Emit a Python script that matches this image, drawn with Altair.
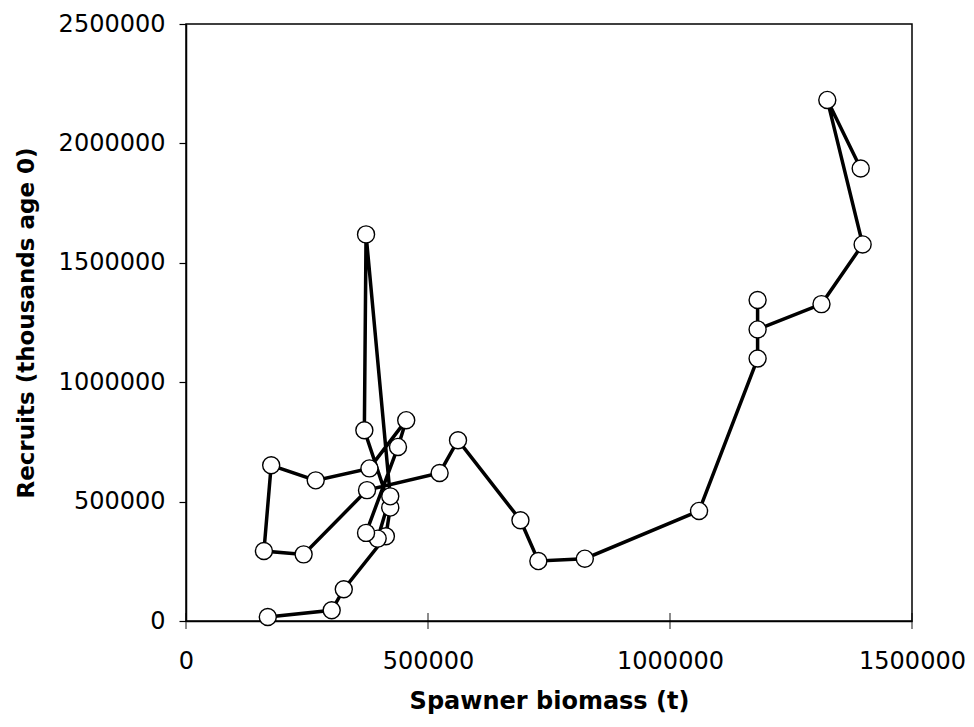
import altair as alt
import pandas as pd

# Spawner biomass (t) and recruits (thousands age 0), in path order
ssb = [169000, 301000, 326000, 413000, 422000, 368500, 372000, 422000, 396000, 372000,
       438000, 455000, 379000, 268000, 176000, 161000, 243000, 374000, 524000, 562000,
       691000, 728000, 824000, 1060000, 1181000, 1181000, 1181000, 1313000, 1398000,
       1325000, 1394000]
recruits = [17000, 45000, 133000, 355000, 475000, 799000, 1619000, 522000, 345000, 369000,
            729000, 841000, 639000, 589000, 652000, 293000, 279000, 548000, 620000, 757000,
            422000, 251000, 261000, 461000, 1099000, 1344000, 1221000, 1327000, 1577000,
            2182000, 1895000]
x_ticks = [0, 500000, 1000000, 1500000]
y_ticks = [0, 500000, 1000000, 1500000, 2000000, 2500000]

df = pd.DataFrame({"ssb": ssb, "rec": recruits, "order": list(range(len(ssb)))})
tick_df = pd.DataFrame({"t": x_ticks, "y0": [0] * len(x_ticks)})

FONT = "DejaVu Sans"

xscale = alt.Scale(domain=[0, 1500000], nice=False, zero=False)
yscale = alt.Scale(domain=[0, 2500000], nice=False, zero=False)

x_enc = alt.X("ssb:Q", scale=xscale,
              axis=alt.Axis(title="Spawner biomass (t)", values=x_ticks, format="d",
                            ticks=False, grid=False, labelPadding=28, titlePadding=16,
                            labelFlush=False, titleFontSize=24,
                            domainColor="black", domainWidth=1.5))
y_enc = alt.Y("rec:Q", scale=yscale,
              axis=alt.Axis(title="Recruits (thousands age 0)", values=y_ticks, format="d",
                            tickSize=7, tickColor="black", tickWidth=1.2, grid=False,
                            labelPadding=14, titlePadding=20, titleFontSize=23,
                            domainColor="black", domainWidth=1.5))

base = alt.Chart(df)
line = base.mark_line(color="black", strokeWidth=3.5).encode(x=x_enc, y=y_enc, order="order:Q")
pts = base.mark_point(shape="circle", filled=True, fill="white", stroke="black",
                      strokeWidth=1.4, size=290, opacity=1).encode(
    x=alt.X("ssb:Q", scale=xscale), y=alt.Y("rec:Q", scale=yscale))
xt = alt.Chart(tick_df).mark_tick(color="black", thickness=1.3, size=16, orient="vertical").encode(
    x=alt.X("t:Q", scale=xscale), y=alt.Y("y0:Q", scale=yscale))

chart = alt.layer(line, xt, pts).properties(
    width=726, height=597,
    background="white",
    autosize=alt.AutoSizeParams(type="none"),
    padding={"left": 178, "top": 16, "right": 54, "bottom": 100},
).configure_view(stroke="black", strokeWidth=1.5).configure_axis(
    labelFont=FONT, titleFont=FONT, labelFontSize=24,
    labelColor="black", titleColor="black", titleFontWeight="bold",
)

chart.save("out.html", embed_options={"renderer": "svg", "actions": False})
